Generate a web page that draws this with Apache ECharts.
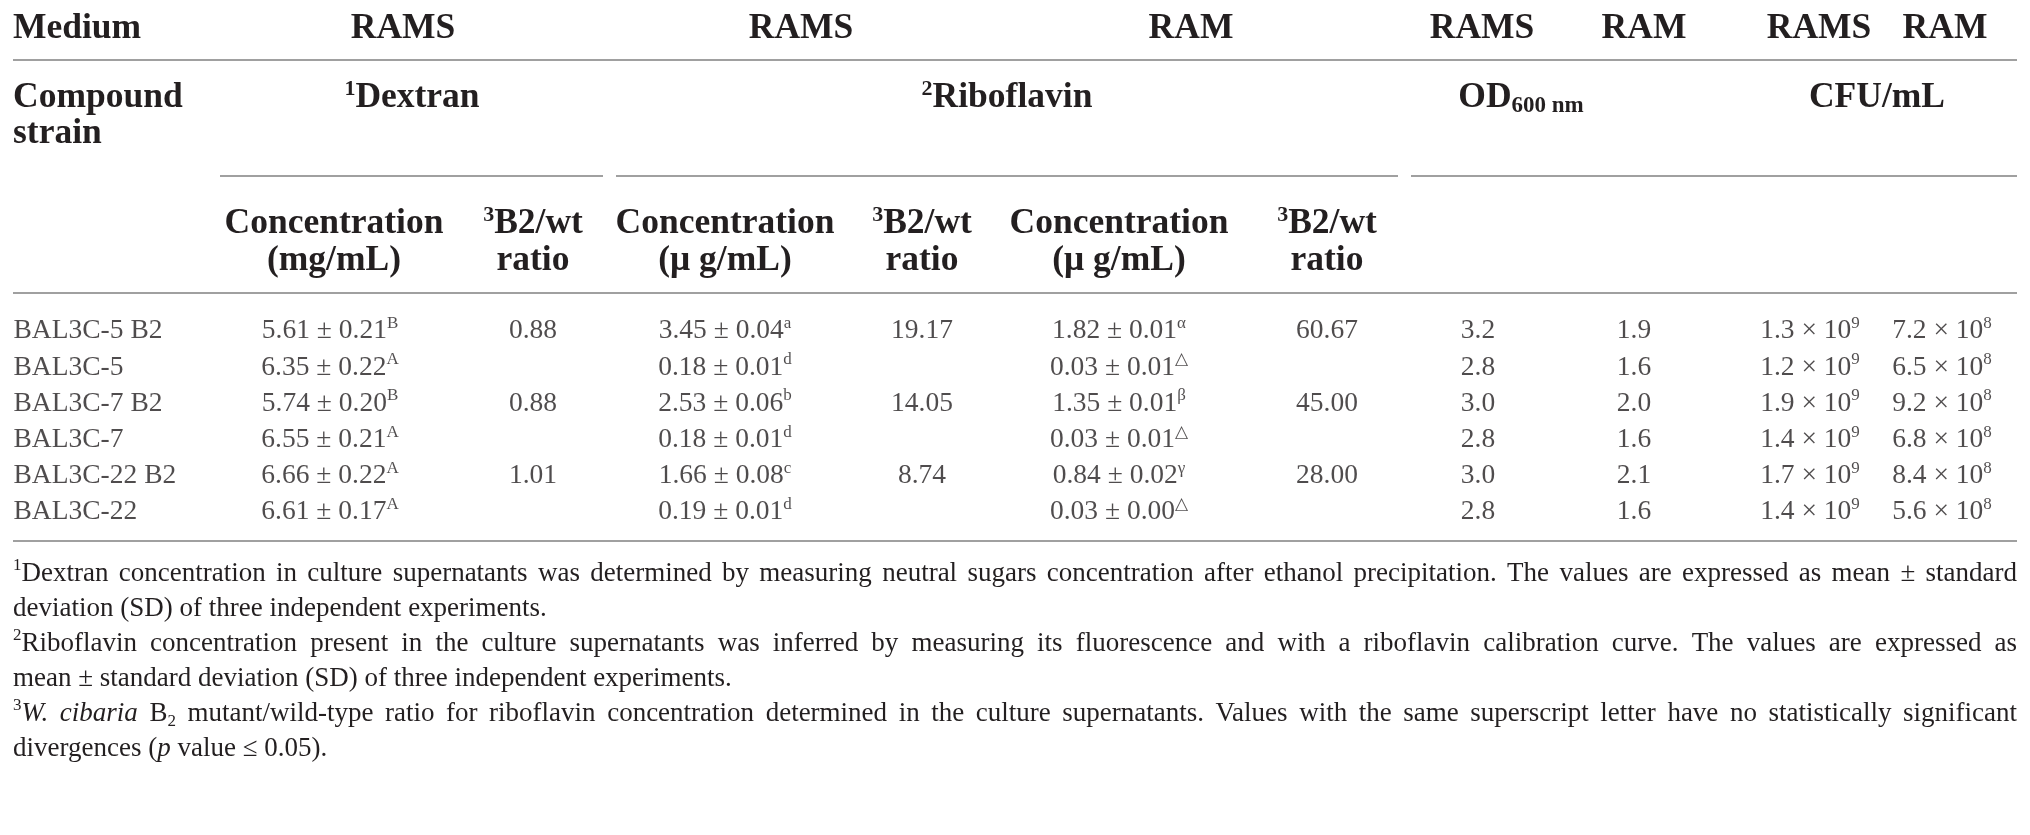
<!DOCTYPE html>
<html>
<head>
<meta charset="utf-8">
<title>Dextran and riboflavin production</title>
<script src="https://cdn.jsdelivr.net/npm/echarts@6/dist/echarts.min.js"></script>
<style>
html, body { margin: 0; padding: 0; background: #fff; }
#main { width: 2030px; height: 835px; }
</style>
</head>
<body>
<div id="main"></div>
<script>
// ---- data ----
var strains = ['BAL3C-5 B2', 'BAL3C-5', 'BAL3C-7 B2', 'BAL3C-7', 'BAL3C-22 B2', 'BAL3C-22'];
var dextranMean = [5.61, 6.35, 5.74, 6.55, 6.66, 6.61];
var dextranSd = [0.21, 0.22, 0.20, 0.21, 0.22, 0.17];
var dextranGroup = ['B', 'A', 'B', 'A', 'A', 'A'];
var dextranRatio = [0.88, null, 0.88, null, 1.01, null];
var riboRamsMean = [3.45, 0.18, 2.53, 0.18, 1.66, 0.19];
var riboRamsSd = [0.04, 0.01, 0.06, 0.01, 0.08, 0.01];
var riboRamsGroup = ['a', 'd', 'b', 'd', 'c', 'd'];
var riboRamsRatio = [19.17, null, 14.05, null, 8.74, null];
var riboRamMean = [1.82, 0.03, 1.35, 0.03, 0.84, 0.03];
var riboRamSd = [0.01, 0.01, 0.01, 0.01, 0.02, 0.00];
var riboRamGroup = ['α', '△', 'β', '△', 'γ', '△'];
var riboRamRatio = [60.67, null, 45.00, null, 28.00, null];
var odRams = [3.2, 2.8, 3.0, 2.8, 3.0, 2.8];
var odRam = [1.9, 1.6, 2.0, 1.6, 2.1, 1.6];
var cfuRams = [1.3e9, 1.2e9, 1.9e9, 1.4e9, 1.7e9, 1.4e9];
var cfuRam = [7.2e8, 6.5e8, 9.2e8, 6.8e8, 8.4e8, 5.6e8];

// header texts
var mediumHead = ['RAMS', 'RAMS', 'RAM', 'RAMS', 'RAM', 'RAMS', 'RAM'];
var compoundHead = ['{s|1}{h|Dextran}', '{s|2}{h|Riboflavin}', '{h|OD}{sub|600 nm}', '{h|CFU/mL}'];
var subHead = [
  ['{h|Concentration}', '{h|(mg/mL)}'],
  ['{s|3}{h|B2/wt}', '{h|ratio}'],
  ['{h|Concentration}', '{h|(μ g/mL)}'],
  ['{s|3}{h|B2/wt}', '{h|ratio}'],
  ['{h|Concentration}', '{h|(μ g/mL)}'],
  ['{s|3}{h|B2/wt}', '{h|ratio}']
];
var notes = [
  '{fsup|1}Dextran concentration in culture supernatants was determined by measuring neutral sugars concentration after ethanol precipitation. The values are expressed as mean ± standard',
  'deviation (SD) of three independent experiments.',
  '{fsup|2}Riboflavin concentration present in the culture supernatants was inferred by measuring its fluorescence and with a riboflavin calibration curve. The values are expressed as',
  'mean ± standard deviation (SD) of three independent experiments.',
  '{fsup|3}{fi|W. cibaria} B{fsub|2} mutant/wild-type ratio for riboflavin concentration determined in the culture supernatants. Values with the same superscript letter have no statistically significant',
  'divergences ({fi|p} value ≤ 0.05).'
];
var notesJustified = [true, false, true, false, true, false];

// ---- layout ----
var FONT = 'Liberation Serif';
var INK = '#231f20';
var RULE = '#a0a0a0';
var left = 13, right = 2017;
var yMedium = 29, yRule1 = 60;
var yCompound = 98, yStrain = 134;
var yRule2 = 176;
var rule2Spans = [[220, 603], [616, 1398], [1411, 2017]];
var ySub = [224, 261];
var yRule3 = 293;
var rowTop = 313, rowH = 36.2;
var yRule4 = 541;
var noteTop = 574, noteH = 35;
var mediumX = [403, 801, 1191, 1482, 1644, 1819, 1945];
var compoundX = [412, 1007, 1521, 1877];
var subX = [334, 533, 725, 922, 1119, 1327];
var colX = [330, 533, 725, 922, 1119, 1327, 1478, 1634, 1810, 1942];

var HEAD = 35.5, CELL = 27.5;

function pm(m, s, g) {
  return '{m|' + m.toFixed(2) + ' ± ' + s.toFixed(2) + '}{sup|' + g + '}';
}
function sci(v) {
  var e = Math.floor(Math.log10(v) + 1e-9);
  var mant = v / Math.pow(10, e);
  return '{m|' + mant.toFixed(1) + ' × 10}{sup|' + e + '}';
}
function fix(d) {
  return function (v) { return v == null ? null : '{m|' + v.toFixed(d) + '}'; };
}

var columns = [
  strains.map(function (s, i) { return pm(dextranMean[i], dextranSd[i], dextranGroup[i]); }),
  dextranRatio.map(fix(2)),
  strains.map(function (s, i) { return pm(riboRamsMean[i], riboRamsSd[i], riboRamsGroup[i]); }),
  riboRamsRatio.map(fix(2)),
  strains.map(function (s, i) { return pm(riboRamMean[i], riboRamSd[i], riboRamGroup[i]); }),
  riboRamRatio.map(fix(2)),
  odRams.map(fix(1)),
  odRam.map(fix(1)),
  cfuRams.map(sci),
  cfuRam.map(sci)
];

var cellRich = {
  m: { fontFamily: FONT, fontSize: CELL, color: INK, lineHeight: 32 },
  sup: { fontFamily: FONT, fontSize: 17, color: INK, lineHeight: 18, verticalAlign: 'top' }
};

var series = [];
series.push({
  type: 'scatter', symbolSize: 1, silent: true,
  itemStyle: { color: 'rgba(0,0,0,0)' },
  label: { show: true, position: 'right', distance: 0, color: INK, rich: cellRich,
    formatter: function (p) { return '{m|' + p.data[1] + '}'; } },
  data: strains.map(function (s) { return [left, s]; })
});
columns.forEach(function (col, c) {
  var data = [];
  col.forEach(function (txt, i) { if (txt) data.push([colX[c], strains[i], txt]); });
  series.push({
    type: 'scatter', symbolSize: 1, silent: true,
    itemStyle: { color: 'rgba(0,0,0,0)' },
    label: { show: true, position: 'inside', color: INK, textBorderWidth: 0, rich: cellRich,
      formatter: function (p) { return p.data[2]; } },
    data: data
  });
});

// ---- header / rules via graphic ----
var headRich = {
  h: { fill: INK, fontFamily: FONT, fontSize: HEAD, fontWeight: 'bold', lineHeight: 40 },
  s: { fill: INK, fontFamily: FONT, fontSize: 22, fontWeight: 'bold', lineHeight: 22, verticalAlign: 'top' },
  sub: { fill: INK, fontFamily: FONT, fontSize: 23, fontWeight: 'bold', lineHeight: 20, verticalAlign: 'bottom' }
};
var graphics = [];
function headText(txt, x, y, align) {
  graphics.push({ type: 'text', x: x, y: y, silent: true,
    style: { text: txt, rich: headRich, align: align || 'center', verticalAlign: 'middle' } });
}
function rule(x1, x2, y) {
  graphics.push({ type: 'line', silent: true, shape: { x1: x1, y1: y, x2: x2, y2: y },
    style: { stroke: RULE, lineWidth: 2 } });
}
headText('{h|Medium}', left, yMedium, 'left');
mediumHead.forEach(function (t, i) { headText('{h|' + t + '}', mediumX[i], yMedium); });
headText('{h|Compound}', left, yCompound, 'left');
headText('{h|strain}', left, yStrain, 'left');
compoundHead.forEach(function (t, i) { headText(t, compoundX[i], yCompound); });
subHead.forEach(function (pair, i) {
  headText(pair[0], subX[i], ySub[0]);
  headText(pair[1], subX[i], ySub[1]);
});
rule(left, right, yRule1);
rule2Spans.forEach(function (s) { rule(s[0], s[1], yRule2); });
rule(left, right, yRule3);
rule(left, right, yRule4);

// ---- footnotes, justified word by word ----
var ctx = document.createElement('canvas').getContext('2d');
function noteRich(F) {
  return {
    fn: { fill: INK, fontFamily: FONT, fontSize: F, lineHeight: F + 6 },
    fi: { fill: INK, fontFamily: FONT, fontSize: F, fontStyle: 'italic', lineHeight: F + 6 },
    fsup: { fill: INK, fontFamily: FONT, fontSize: Math.round(F * 0.64), lineHeight: Math.round(F * 0.7), verticalAlign: 'top' },
    fsub: { fill: INK, fontFamily: FONT, fontSize: Math.round(F * 0.64), lineHeight: Math.round(F * 0.7), verticalAlign: 'bottom' }
  };
}
function fontOf(st) {
  return (st.fontStyle || 'normal') + ' normal ' + st.fontSize + 'px "' + st.fontFamily + '"';
}
function splitWords(str) {
  var re = /\{(\w+)\|([^}]*)\}|([^{]+)/g, m, ws = [[]];
  while ((m = re.exec(str))) {
    var style = m[1] || 'fn', txt = m[1] ? m[2] : m[3];
    txt.split(' ').forEach(function (p, k) {
      if (k > 0) ws.push([]);
      if (p) ws[ws.length - 1].push([style, p]);
    });
  }
  return ws.filter(function (w) { return w.length; });
}
function wordWidth(w, rich) {
  return w.reduce(function (a, s) { ctx.font = fontOf(rich[s[0]]); return a + ctx.measureText(s[1]).width; }, 0);
}
function lineWidth(ws, rich) {
  ctx.font = fontOf(rich.fn);
  var sp = ctx.measureText(' ').width;
  return ws.reduce(function (a, w) { return a + wordWidth(w, rich); }, 0) + sp * (ws.length - 1);
}
var F0 = 25;
var natural = lineWidth(splitWords(notes[0]), noteRich(F0));
var F = Math.min(27, F0 * (right - left) / natural);
var nRich = noteRich(F);
ctx.font = fontOf(nRich.fn);
var spaceW = ctx.measureText(' ').width;
notes.forEach(function (line, li) {
  var ws = splitWords(line);
  var widths = ws.map(function (w) { return wordWidth(w, nRich); });
  var total = widths.reduce(function (a, b) { return a + b; }, 0);
  var gap = notesJustified[li] ? (right - left - total) / (ws.length - 1) : spaceW;
  var x = left, y = noteTop + li * noteH;
  ws.forEach(function (w, k) {
    graphics.push({ type: 'text', x: x, y: y, silent: true,
      style: { text: w.map(function (s) { return '{' + s[0] + '|' + s[1] + '}'; }).join(''),
        rich: nRich, align: 'left', verticalAlign: 'middle' } });
    x += widths[k] + gap;
  });
});

var chart = echarts.init(document.getElementById('main'), null, { renderer: 'canvas' });
chart.setOption({
  animation: false,
  backgroundColor: '#fff',
  grid: { left: 0, right: 0, top: rowTop, height: rowH * strains.length },
  xAxis: { type: 'value', min: 0, max: 2030, show: false },
  yAxis: { type: 'category', data: strains, inverse: true, show: false },
  series: series,
  graphic: graphics
});
</script>
</body>
</html>
